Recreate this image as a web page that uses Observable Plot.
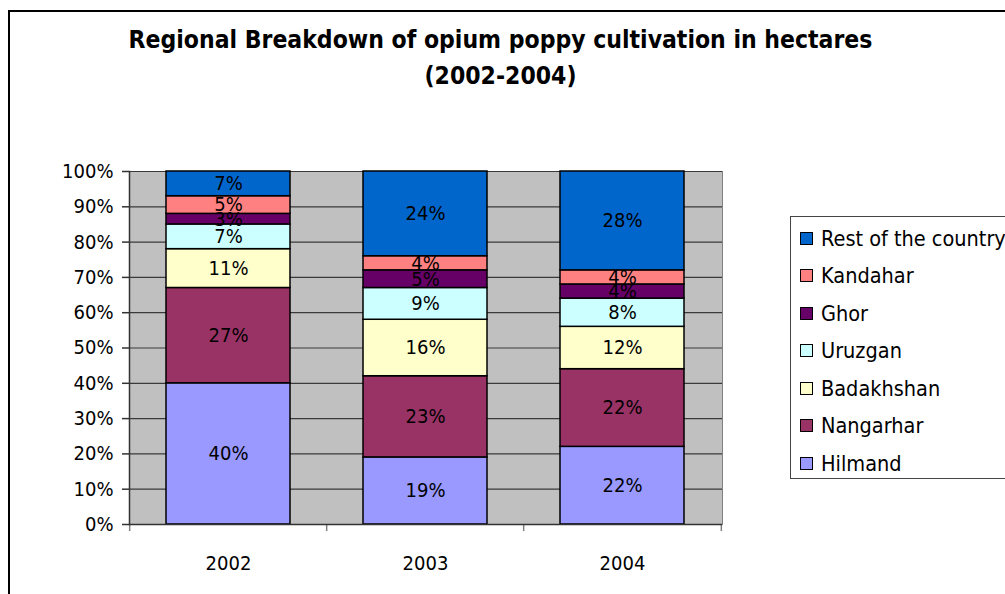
<!DOCTYPE html>
<html>
<head>
<meta charset="utf-8">
<script src="https://cdn.jsdelivr.net/npm/d3@7"></script>
<script src="https://cdn.jsdelivr.net/npm/@observablehq/plot@0.6"></script>
<style>
  html, body { margin: 0; padding: 0; background: #fff; overflow: hidden; }
  #chart { position: relative; width: 1005px; height: 594px; overflow: hidden;
           font-family: "DejaVu Sans Condensed", "DejaVu Sans", sans-serif; font-stretch: condensed; }
  #frame { position: absolute; left: 8px; top: 10px; width: 1100px; height: 700px;
           border: 2px solid #000; box-sizing: border-box; }
  #title { position: absolute; left: 0; width: 1001px; top: 22px; text-align: center;
           font-weight: bold; font-size: 24.5px; line-height: 36px; color: #000; }
  #plot { position: absolute; left: 0; top: 0; }
  #legend { position: absolute; left: 790px; top: 216px; width: 260px; height: 263px;
            border: 1px solid #444; box-sizing: border-box; background: #fff; }
  .item { position: absolute; left: 9px; height: 24px; display: flex; align-items: center;
          font-size: 21.5px; color: #000; white-space: nowrap; }
  .sw { width: 11px; height: 11px; border: 1px solid #000; margin-right: 8px; flex: none; }
</style>
</head>
<body>
<div id="chart">
  <div id="frame"></div>
  <div id="title">Regional Breakdown of opium poppy cultivation in hectares<br>(2002-2004)</div>
  <div id="plot"></div>
  <div id="legend"></div>
</div>
<script>
// Years on the category axis
const years = ["2002", "2003", "2004"];
// Regions, from the bottom of each stack to the top
const regions = ["Hilmand", "Nangarhar", "Badakhshan", "Uruzgan", "Ghor", "Kandahar", "Rest of the country"];
const regionColors = ["#9999FF", "#993366", "#FFFFCC", "#CCFFFF", "#660066", "#FF8080", "#0066CC"];
// Share of cultivated area (%) per region, one value per year
const hilmand    = [40, 19, 22];
const nangarhar  = [27, 23, 22];
const badakhshan = [11, 16, 12];
const uruzgan    = [7, 9, 8];
const ghor       = [3, 5, 4];
const kandahar   = [5, 4, 4];
const rest       = [7, 24, 28];
// Percentage ticks on the value axis
const yTicks = [0, 10, 20, 30, 40, 50, 60, 70, 80, 90, 100];

const series = [hilmand, nangarhar, badakhshan, uruzgan, ghor, kandahar, rest];
const rows = [];
regions.forEach((r, i) => years.forEach((y, j) => rows.push({year: y, region: r, share: series[i][j]})));

const font = '"DejaVu Sans Condensed", "DejaVu Sans", sans-serif';
const W = 1005, H = 594;
const mL = 129, mR = 283, mT = 171, mB = 70;
const step = (W - mL - mR) / years.length;

const plot = Plot.plot({
  width: W,
  height: H,
  marginLeft: mL,
  marginRight: mR,
  marginTop: mT,
  marginBottom: mB,
  style: {fontFamily: font, fontSize: "20px", color: "#000", background: "transparent", fontStretch: "condensed"},
  x: {domain: years, paddingInner: 0.37, paddingOuter: 0.185, label: null},
  y: {domain: [0, 100], label: null},
  color: {domain: regions, range: regionColors},
  marks: [
    Plot.frame({fill: "#C0C0C0", stroke: "#808080"}),
    Plot.ruleY(yTicks, {stroke: "#3a3a3a", strokeWidth: 1.2}),
    Plot.barY(rows, Plot.stackY({
      x: "year", y: "share", z: "region", fill: "region", order: regions,
      stroke: "#000", strokeWidth: 1.5
    })),
    Plot.text(rows, Plot.stackY({
      x: "year", y: "share", z: "region", order: regions,
      text: d => d.share + "%", fill: "#000", fontSize: 20
    })),
    // category separators below the base line
    Plot.ruleX(years, {x: d => d, dx: -step / 2, y1: 0, y2: -2, stroke: "#808080", strokeWidth: 1.5}),
    Plot.ruleX([years[years.length - 1]], {x: d => d, dx: step / 2, y1: 0, y2: -2, stroke: "#808080", strokeWidth: 1.5}),
    Plot.ruleY([0], {stroke: "#333", strokeWidth: 1.5}),
    Plot.axisY({ticks: yTicks, tickFormat: d => d + "%", tickSize: 7, tickPadding: 9, stroke: "#333", strokeWidth: 1.5, fontSize: 20}),
    Plot.axisX({tickSize: 0, tickPadding: 31, fontSize: 20}),
    Plot.frame({anchor: "left", stroke: "#333", strokeWidth: 1.5})
  ]
});
document.getElementById("plot").appendChild(plot);

// Legend: top entry is the top of the stack
const legend = document.getElementById("legend");
regions.slice().reverse().forEach((r, k) => {
  const item = document.createElement("div");
  item.className = "item";
  item.style.top = (9 + k * 37.5) + "px";
  const sw = document.createElement("span");
  sw.className = "sw";
  sw.style.background = regionColors[regions.indexOf(r)];
  const label = document.createElement("span");
  label.textContent = r;
  item.appendChild(sw);
  item.appendChild(label);
  legend.appendChild(item);
});
</script>
</body>
</html>
